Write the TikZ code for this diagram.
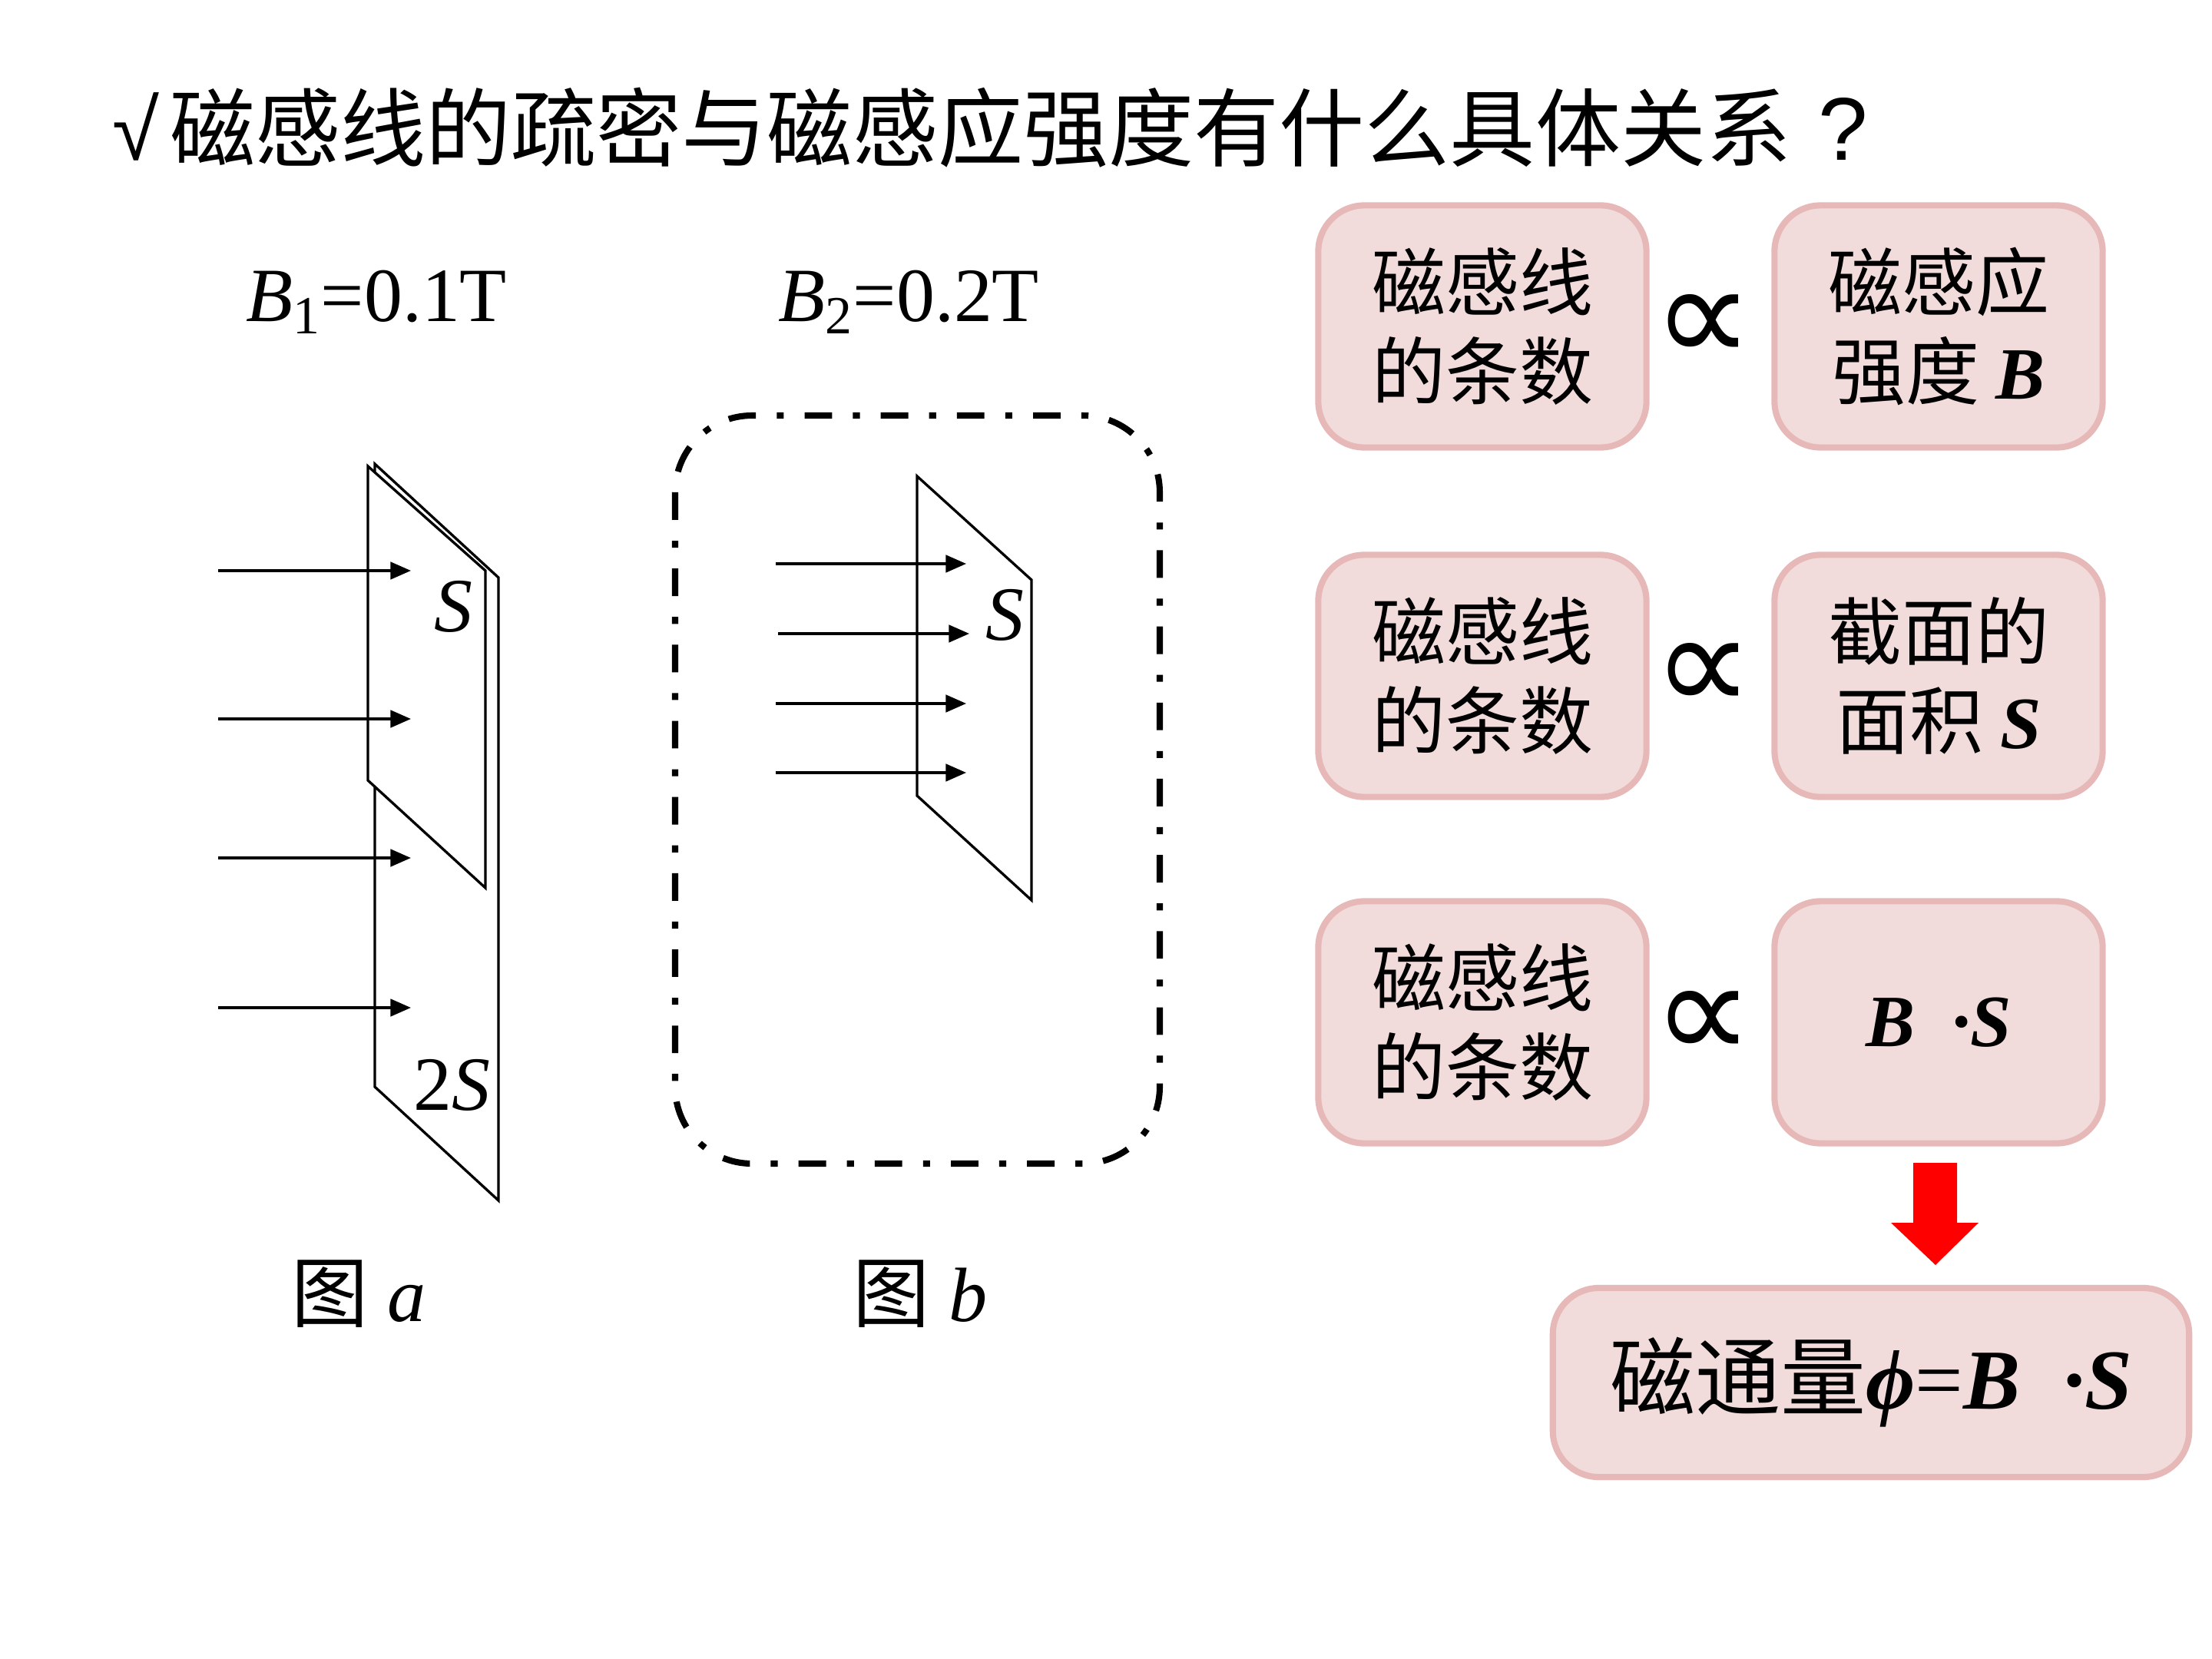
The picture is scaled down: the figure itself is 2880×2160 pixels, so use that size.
\documentclass[tikz,border=0pt]{standalone}
\usepackage{fontspec}
\setmainfont{Liberation Serif}
\newfontfamily\cjk{Noto Sans CJK SC}
\newfontfamily\tms{Liberation Serif}
\newfontfamily\lsans{Liberation Sans}
\newfontfamily\djv{DejaVu Sans}
\usetikzlibrary{arrows.meta}
\definecolor{boxfill}{HTML}{F2DCDB}
\definecolor{boxborder}{HTML}{E6B9B8}
\begin{document}
\begin{tikzpicture}[x=0.01cm,y=-0.01cm,
  plate/.style={draw=black, line width=0.95pt, fill=white, line join=miter},
  fline/.style={line width=0.95pt, -{Triangle[length=7.6pt,width=6.4pt]}},
  pbox/.style={draw=boxborder, fill=boxfill, line width=2.3pt, rounded corners=0.6cm,
    minimum width=4.27cm, minimum height=3.15cm, align=center, inner sep=0pt,
    font=\cjk\fontsize{27.3pt}{33pt}\selectfont},
  prop/.style={inner sep=0pt, font=\djv\fontsize{52pt}{54pt}\selectfont},
  lab/.style={inner sep=0pt, anchor=base, font=\tms\fontsize{28.4pt}{30pt}\selectfont},
  figcap/.style={inner sep=0pt, anchor=base, font=\fontsize{28.5pt}{30pt}\selectfont},
]
\fill[white] (0,0) rectangle (2880,2160);
\useasboundingbox (0,0) rectangle (2880,2160);

% title
\node[inner sep=0pt, anchor=west, font=\cjk\fontsize{31.6pt}{38pt}\selectfont] (title) at (146,166)
  {{\lsans √}\hspace{0.12em}磁感线的疏密与磁感应强度有什么具体关系\hspace{0.32em}{\lsans\fontsize{33pt}{38pt}\selectfont ?}};

% figure a
\draw[plate] (488,604) -- (649,752) -- (649,1563) -- (488,1415) -- cycle;
\draw[plate] (479,607) -- (632,743) -- (632,1156) -- (479,1016) -- cycle;
\coordinate (a1s) at (284,743);  \coordinate (a1e) at (535,743);
\coordinate (a2s) at (284,936);  \coordinate (a2e) at (535,936);
\coordinate (a3s) at (284,1117); \coordinate (a3e) at (535,1117);
\coordinate (a4s) at (284,1312); \coordinate (a4e) at (535,1312);
\draw[fline] (a1s) -- (a1e);
\draw[fline] (a2s) -- (a2e);
\draw[fline] (a3s) -- (a3e);
\draw[fline] (a4s) -- (a4e);
\node[lab] (Sa) at (590,822) {\itshape S};
\node[lab] (S2a) at (588,1445) {2\itshape S};
\node[lab] (B1) at (490,418) {{\itshape B}\textsubscript{1}=0.1T};
\node[figcap] (capa) at (467,1720) {{\cjk 图} {\itshape a}};

% figure b
\draw[line width=2.3pt, dash pattern=on 10.2pt off 7.7pt on 2.6pt off 7.7pt, rounded corners=1cm]
  (879,541) rectangle (1510,1515);
\draw[plate] (1194,620) -- (1343,755) -- (1343,1172) -- (1194,1036) -- cycle;
\coordinate (b1s) at (1010,734);  \coordinate (b1e) at (1258,734);
\coordinate (b2s) at (1013,825);  \coordinate (b2e) at (1262,825);
\coordinate (b3s) at (1010,916);  \coordinate (b3e) at (1258,916);
\coordinate (b4s) at (1010,1006); \coordinate (b4e) at (1258,1006);
\draw[fline] (b1s) -- (b1e);
\draw[fline] (b2s) -- (b2e);
\draw[fline] (b3s) -- (b3e);
\draw[fline] (b4s) -- (b4e);
\node[lab] (Sb) at (1308,833) {\itshape S};
\node[lab] (B2) at (1183,418) {{\itshape B}\textsubscript{2}=0.2T};
\node[figcap] (capb) at (1198,1720) {{\cjk 图} {\itshape b}};

% boxes
\node[pbox] (r1a) at (1930,425) {磁感线\\的条数};
\node[pbox] (r1b) at (2524,425) {磁感应\\强度 {\tms\bfseries\itshape B}};
\node[pbox] (r2a) at (1930,880) {磁感线\\的条数};
\node[pbox] (r2b) at (2524,880) {截面的\\面积 {\tms\bfseries\itshape S}};
\node[pbox] (r3a) at (1930,1331) {磁感线\\的条数};
\node[pbox] (r3b) at (2524,1331) {{\tms\bfseries\itshape B\ \ ·S}};
\node[prop] (p1) at (2218,428) {∝};
\node[prop] (p2) at (2218,882) {∝};
\node[prop] (p3) at (2218,1335) {∝};

% red block arrow
\fill[red] (2491,1514) -- (2548,1514) -- (2548,1592) -- (2576,1592) -- (2520,1647)
  -- (2462,1592) -- (2491,1592) -- cycle;

\node[pbox, minimum width=8.28cm, minimum height=2.46cm, font=\cjk\fontsize{31.6pt}{38pt}\selectfont]
  (flux) at (2436,1800) {磁通量{\tms\bfseries\itshape ϕ}{\tms =}{\tms\bfseries\itshape B\ \ ·S}};
\end{tikzpicture}
\end{document}
